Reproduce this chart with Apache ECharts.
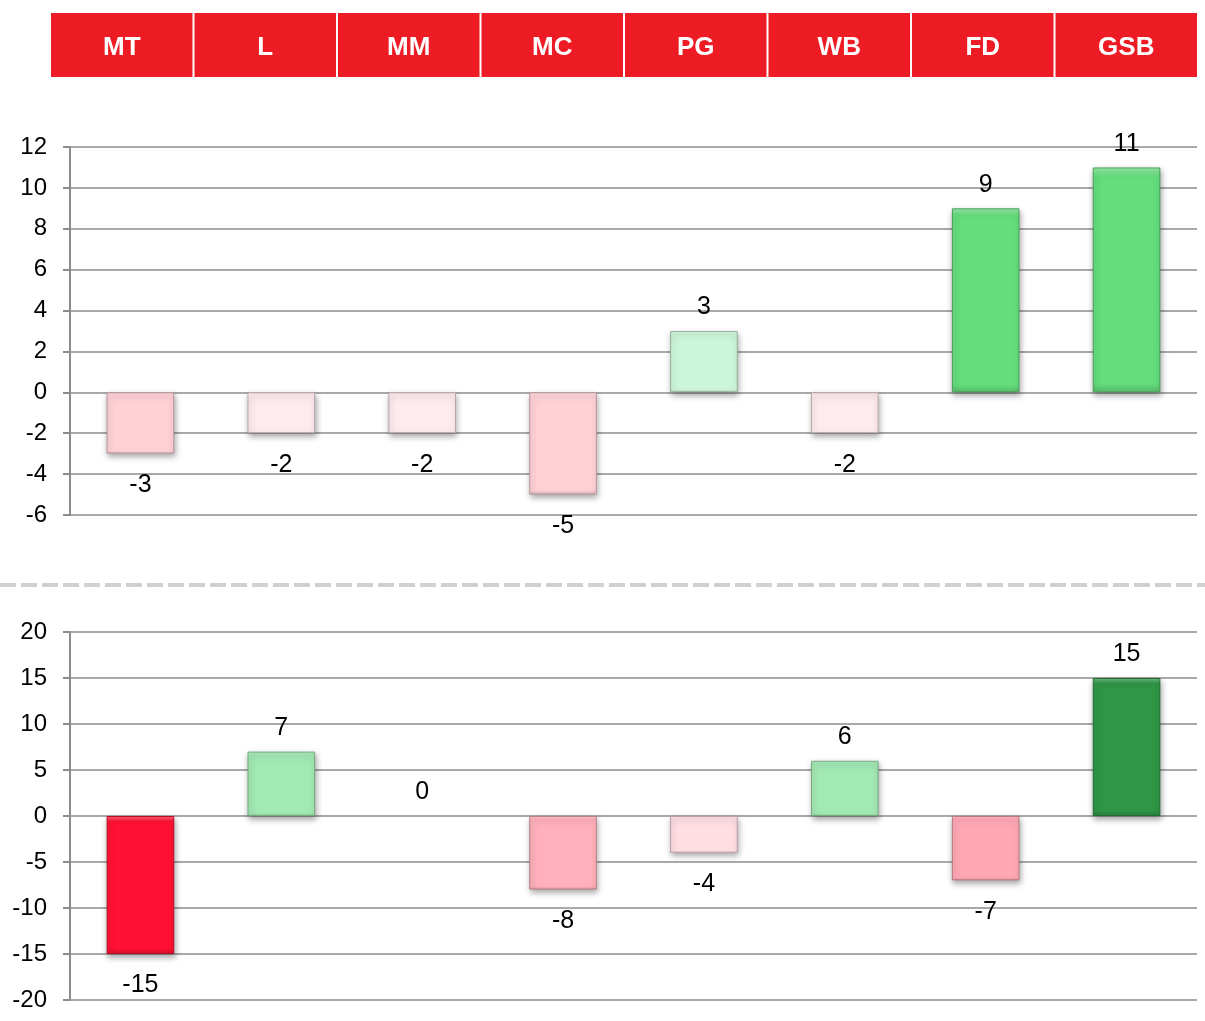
<!DOCTYPE html>
<html>
<head>
<meta charset="utf-8">
<script src="https://cdn.jsdelivr.net/npm/echarts@6/dist/echarts.min.js"></script>
<style>
html,body{margin:0;padding:0;background:#fff;}
#chart{width:1205px;height:1021px;}
</style>
</head>
<body>
<div id="chart"></div>
<script>
const categories = ['MT', 'L', 'MM', 'MC', 'PG', 'WB', 'FD', 'GSB'];
const topValues = [-3, -2, -2, -5, 3, -2, 9, 11];
const bottomValues = [-15, 7, 0, -8, -4, 6, -7, 15];
const topColors = ['#FFD1D7', '#FFEAEE', '#FFEAEE', '#FFD1D7', '#CDF6D8', '#FFEAEE', '#64DD7C', '#64DD7C'];
const bottomColors = ['#FF1133', '#A2E9B3', '#A2E9B3', '#FFB0BA', '#FFDEE4', '#A2E9B3', '#FFA8B4', '#2E9645'];
const topTicks = {min: -6, max: 12, interval: 2};
const bottomTicks = {min: -20, max: 20, interval: 5};

function shade(hex, f) {
  const n = parseInt(hex.slice(1), 16);
  let r = (n >> 16) & 255, g = (n >> 8) & 255, b = n & 255;
  if (f > 1) {
    r = Math.round(r + (255 - r) * (f - 1)); g = Math.round(g + (255 - g) * (f - 1)); b = Math.round(b + (255 - b) * (f - 1));
  } else {
    r = Math.round(r * f); g = Math.round(g * f); b = Math.round(b * f);
  }
  return 'rgb(' + r + ',' + g + ',' + b + ')';
}

function buildItems(values, colors) {
  return values.map((v, i) => {
    const c = colors[i];
    const item = {
      value: v,
      label: {
        position: v < 0 ? 'bottom' : 'top',
        distance: v < 0 ? 19 : 11
      }
    };
    if (v === 0) {
      item.itemStyle = {color: 'rgba(0,0,0,0)', borderWidth: 0};
      return item;
    }
    item.itemStyle = {
      color: {
        type: 'linear', x: 0, y: 0, x2: 0, y2: 1,
        colorStops: [
          {offset: 0, color: shade(c, 1.35)},
          {offset: 0.04, color: c},
          {offset: 0.96, color: c},
          {offset: 1, color: shade(c, 0.85)}
        ]
      },
      borderColor: shade(c, 0.72),
      borderWidth: 1,
      shadowColor: 'rgba(0,0,0,0.35)',
      shadowBlur: 6,
      shadowOffsetY: 3,
      shadowOffsetX: 1
    };
    return item;
  });
}

const font = '"Liberation Sans", Arial, sans-serif';

function yAxisFor(gridIndex, t) {
  return {
    type: 'value', gridIndex: gridIndex,
    min: t.min, max: t.max, interval: t.interval,
    axisLine: {show: true, lineStyle: {color: '#8C8C8C', width: 2}},
    axisTick: {show: true, length: 7, lineStyle: {color: '#8C8C8C', width: 2}},
    splitLine: {show: true, lineStyle: {color: '#8C8C8C', width: 1.5}},
    axisLabel: {color: '#000', fontSize: 24, fontFamily: font, margin: 23}
  };
}

function xAxisFor(gridIndex) {
  return {
    type: 'category', gridIndex: gridIndex, data: categories,
    axisLine: {show: false}, axisTick: {show: false},
    axisLabel: {show: false}, splitLine: {show: false}
  };
}

const chart = echarts.init(document.getElementById('chart'));
chart.setOption({
  animation: false,
  backgroundColor: '#fff',
  grid: [
    {left: 70, right: 8, top: 147, height: 368},
    {left: 70, right: 8, top: 632, height: 368},
    {left: 50, right: 7, top: 77, height: 1}
  ],
  xAxis: [
    xAxisFor(0),
    xAxisFor(1),
    {
      type: 'category', gridIndex: 2, data: categories, position: 'top',
      axisLine: {show: false}, axisTick: {show: false}, splitLine: {show: false},
      axisLabel: {
        interval: 0, margin: 0,
        color: '#fff', fontSize: 26, fontWeight: 'bold', fontFamily: font,
        backgroundColor: '#ED1C24',
        width: 141.5, height: 58, lineHeight: 58, align: 'center',
        padding: [6, 0, 0, 0],
        verticalAlign: 'bottom'
      }
    }
  ],
  yAxis: [
    yAxisFor(0, topTicks),
    yAxisFor(1, bottomTicks),
    {type: 'value', gridIndex: 2, show: false}
  ],
  graphic: [{
    type: 'line',
    shape: {x1: 0, y1: 585, x2: 1205, y2: 585},
    style: {stroke: '#D0D0D0', lineWidth: 4, lineDash: [16, 5]}
  }],
  series: [
    {
      type: 'bar', xAxisIndex: 0, yAxisIndex: 0, barWidth: '48%',
      data: buildItems(topValues, topColors),
      label: {show: true, color: '#000', fontSize: 25, fontFamily: font}
    },
    {
      type: 'bar', xAxisIndex: 1, yAxisIndex: 1, barWidth: '48%',
      data: buildItems(bottomValues, bottomColors),
      label: {show: true, color: '#000', fontSize: 25, fontFamily: font}
    }
  ]
});
</script>
</body>
</html>
